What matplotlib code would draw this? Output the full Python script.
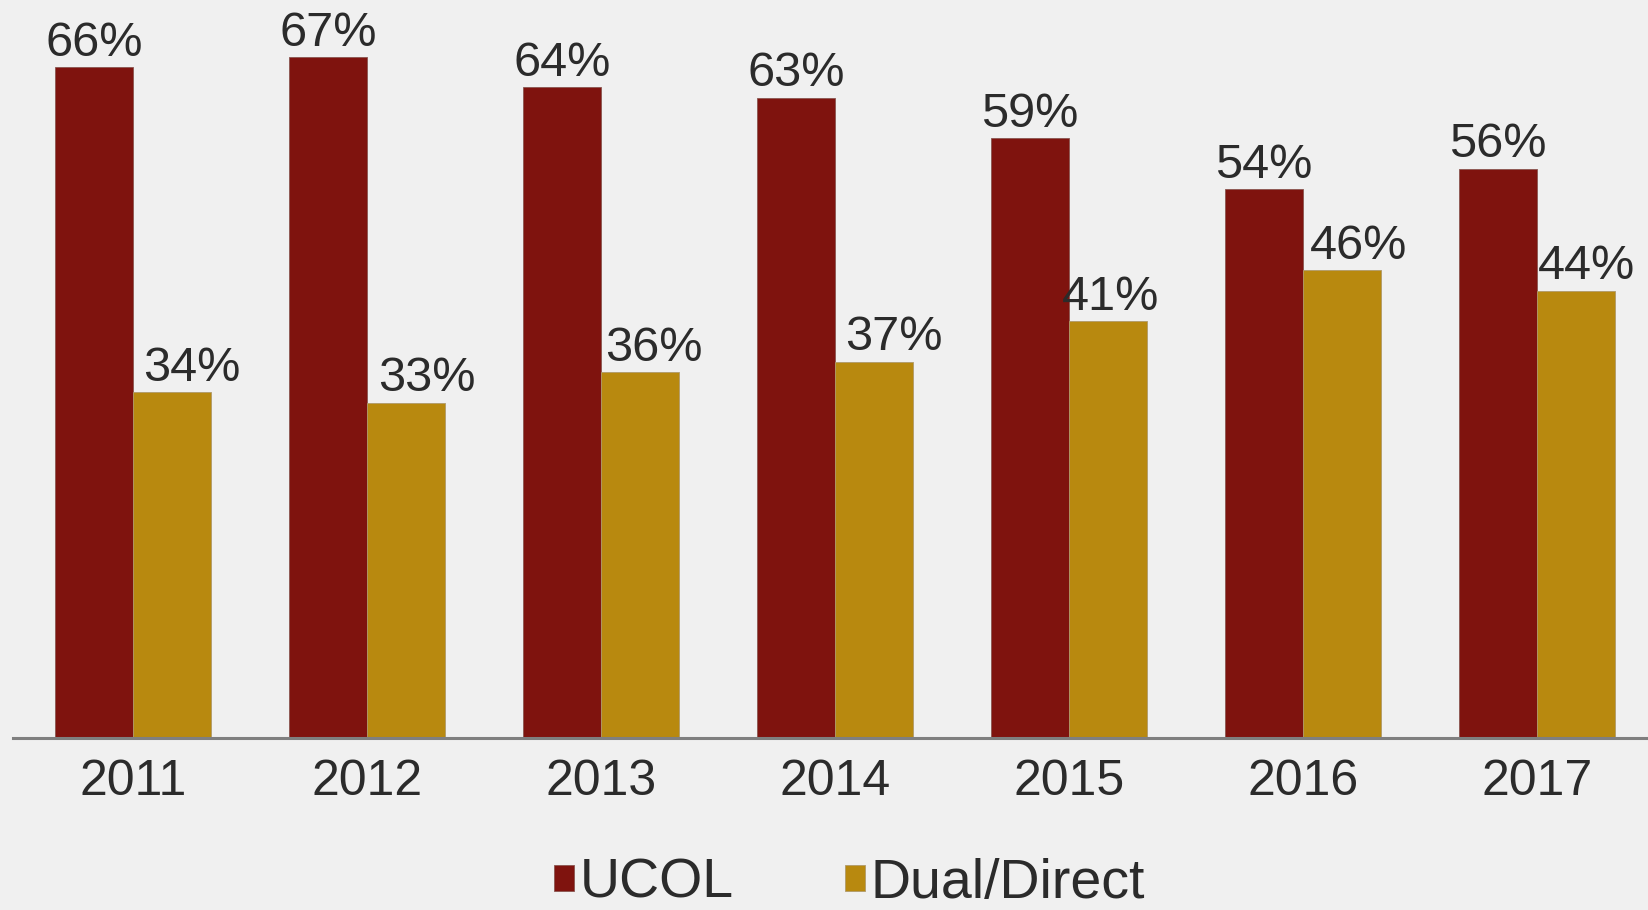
import numpy as np
import matplotlib
matplotlib.use("Agg")
import matplotlib.pyplot as plt

years = ["2011", "2012", "2013", "2014", "2015", "2016", "2017"]
ucol = [66, 67, 64, 63, 59, 54, 56]
dual_direct = [34, 33, 36, 37, 41, 46, 44]

# the Dual/Direct labels sit a little right of their bars (pt)
dual_label_nudge = [14, 15, 10, 14, 2, 12, 8]

plt.rcParams["font.family"] = ["Liberation Sans", "DejaVu Sans"]
bg = "#f0f0f0"
text_color = "#2b2b2b"
colors = ["#7f130e", "#b8890f"]

fig = plt.figure(figsize=(16.49, 9.10), dpi=100, facecolor=bg)
ax = fig.add_axes([13 / 1649, 1 - 738 / 910, 1 - 13 / 1649, 738 / 910])
ax.set_facecolor(bg)

x = np.arange(len(years))
bar_width = 0.333
b1 = ax.bar(x - bar_width / 2, ucol, bar_width, color=colors[0], label="UCOL",
            edgecolor="#8a5550", linewidth=0.6)
b2 = ax.bar(x + bar_width / 2, dual_direct, bar_width, color=colors[1], label="Dual/Direct",
            edgecolor="#b09a6a", linewidth=0.6)

for xi, v in zip(x, ucol):
    ax.annotate(f"{v}%", (xi - bar_width / 2, v), xytext=(0, 1), textcoords="offset points",
                ha="center", va="bottom", fontsize=35, color=text_color)
for xi, v, dx in zip(x, dual_direct, dual_label_nudge):
    ax.annotate(f"{v}%", (xi + bar_width / 2, v), xytext=(dx, 1), textcoords="offset points",
                ha="center", va="bottom", fontsize=35, color=text_color)

ax.set_xlim(-0.513, 6.479)
ax.set_ylim(0, 72.6)
ax.set_yticks([])
ax.set_xticks(x)
ax.set_xticklabels(years, fontsize=36, color=text_color)
ax.tick_params(axis="x", length=0, pad=15)
for side in ["top", "right", "left"]:
    ax.spines[side].set_visible(False)
ax.spines["bottom"].set_color("#7f7f7f")
ax.spines["bottom"].set_linewidth(2.2)

fig.legend(handles=[b1, b2], loc="lower left", bbox_to_anchor=(554 / 1649, 0.0),
           ncol=2, frameon=False, fontsize=40, handlelength=0.36, handleheight=0.36,
           handletextpad=0.1, columnspacing=2.0, borderpad=0, borderaxespad=0,
           labelcolor=text_color)

fig.savefig("out.png", dpi=100, facecolor=bg)
